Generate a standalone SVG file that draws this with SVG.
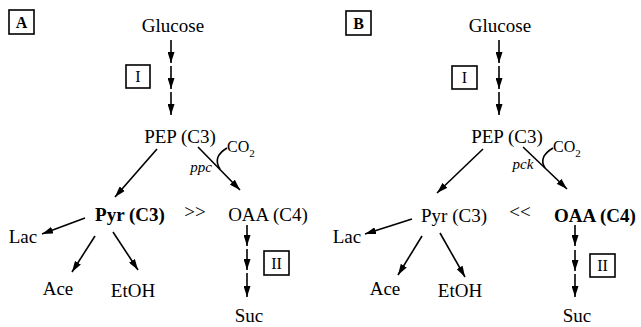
<svg xmlns="http://www.w3.org/2000/svg" width="641" height="327" viewBox="0 0 641 327">
<defs>
<marker id="ah" markerUnits="userSpaceOnUse" markerWidth="11" markerHeight="7" refX="11" refY="3.5" orient="auto">
<path d="M0,0 L11,3.5 L0,7 z" fill="#000"/>
</marker>
<style>
text{font-family:"Liberation Serif","Times New Roman",serif;fill:#000}
.t{font-size:19px;text-anchor:middle}
.b{font-weight:bold}
.e{font-size:15px;font-style:italic;text-anchor:middle}
.co{font-size:16px}
.sub{font-size:11px}
.bx{fill:#fff;stroke:#000;stroke-width:1.6}
.bl{font-size:16px;text-anchor:middle;font-weight:bold}
.rl{font-size:16px;text-anchor:middle}
.c line,.c path{stroke:#000;stroke-width:1.6;fill:none}
.c line{marker-end:url(#ah)}
</style>
</defs>
<rect width="641" height="327" fill="#fff"/>

<g id="panelA-label"><rect class="bx" x="9" y="10" width="25" height="24"/><text class="bl" x="21.5" y="28">A</text></g>
<g id="panelB-label"><rect class="bx" x="346" y="11" width="25" height="24"/><text class="bl" x="358.5" y="29">B</text></g>

<g id="A-glucose"><text class="t" x="173" y="32">Glucose</text></g>
<g id="A-step1"><rect class="bx" x="126" y="65" width="24" height="23"/><text class="rl" x="138" y="82">I</text></g>
<g id="A-pep"><text class="t" x="180" y="143">PEP (C3)</text></g>
<g id="A-co2"><text class="co" x="227" y="152">CO<tspan class="sub" dy="5">2</tspan></text></g>
<g id="A-ppc"><text class="e" x="201" y="172">ppc</text></g>
<g id="A-pyr"><text class="t b" x="130" y="221">Pyr (C3)</text></g>
<g id="A-gt"><text class="t" x="195" y="218">&gt;&gt;</text></g>
<g id="A-oaa"><text class="t" x="268" y="221">OAA (C4)</text></g>
<g id="A-lac"><text class="t" x="23" y="243">Lac</text></g>
<g id="A-ace"><text class="t" x="58" y="295">Ace</text></g>
<g id="A-etoh"><text class="t" x="133" y="297">EtOH</text></g>
<g id="A-step2"><rect class="bx" x="264" y="251" width="25" height="24"/><text class="rl" x="276.5" y="269">II</text></g>
<g id="A-suc"><text class="t" x="249" y="322">Suc</text></g>

<g id="B-glucose"><text class="t" x="500" y="32">Glucose</text></g>
<g id="B-step1"><rect class="bx" x="452" y="66" width="25" height="23"/><text class="rl" x="464.5" y="83">I</text></g>
<g id="B-pep"><text class="t" x="507" y="143">PEP (C3)</text></g>
<g id="B-co2"><text class="co" x="553" y="152">CO<tspan class="sub" dy="5">2</tspan></text></g>
<g id="B-pck"><text class="e" x="523" y="169">pck</text></g>
<g id="B-pyr"><text class="t" x="454" y="222">Pyr (C3)</text></g>
<g id="B-lt"><text class="t" x="520" y="218">&lt;&lt;</text></g>
<g id="B-oaa"><text class="t b" x="595" y="222">OAA (C4)</text></g>
<g id="B-lac"><text class="t" x="347" y="243">Lac</text></g>
<g id="B-ace"><text class="t" x="385" y="295">Ace</text></g>
<g id="B-etoh"><text class="t" x="460" y="297">EtOH</text></g>
<g id="B-step2"><rect class="bx" x="590" y="254" width="25" height="23"/><text class="rl" x="602.5" y="271">II</text></g>
<g id="B-suc"><text class="t" x="577" y="322">Suc</text></g>

<g id="connectors" class="c">
<line x1="171" y1="40" x2="171" y2="63"/>
<line x1="171" y1="66" x2="171" y2="89"/>
<line x1="171" y1="92" x2="171" y2="115"/>
<line x1="157" y1="149" x2="115" y2="197"/>
<line x1="198" y1="147" x2="240" y2="190"/>
<path d="M227,148 Q212,157 220,169"/>
<line x1="85" y1="218" x2="42" y2="234"/>
<line x1="95" y1="236" x2="72" y2="272"/>
<line x1="113" y1="232" x2="138" y2="270"/>
<line x1="247" y1="225" x2="247" y2="246"/>
<line x1="247" y1="249" x2="247" y2="270"/>
<line x1="247" y1="273" x2="247" y2="297"/>

<line x1="499" y1="40" x2="499" y2="63"/>
<line x1="499" y1="66" x2="499" y2="89"/>
<line x1="499" y1="92" x2="499" y2="115"/>
<line x1="483" y1="149" x2="437" y2="193"/>
<line x1="523" y1="147" x2="567" y2="189"/>
<path d="M553,148 Q538,157 545,168"/>
<line x1="412" y1="219" x2="365" y2="234"/>
<line x1="422" y1="236" x2="398" y2="275"/>
<line x1="440" y1="233" x2="465" y2="277"/>
<line x1="575" y1="225" x2="575" y2="246"/>
<line x1="575" y1="250" x2="575" y2="271"/>
<line x1="575" y1="274" x2="575" y2="297"/>
</g>
</svg>
